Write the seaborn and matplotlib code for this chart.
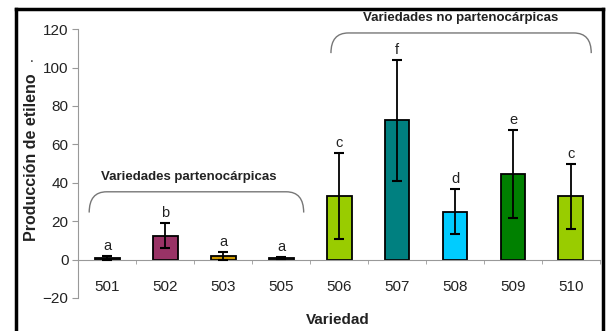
import numpy as np
import pandas as pd
import matplotlib.pyplot as plt
import matplotlib.patches as mpatches
from matplotlib.path import Path
import seaborn as sns

# --- data ---
variedades = ["501", "502", "503", "505", "506", "507", "508", "509", "510"]
produccion = [1.0, 12.5, 2.0, 1.0, 33.0, 72.5, 25.0, 44.5, 33.0]
error = [1.0, 6.5, 2.0, 0.6, 22.5, 31.5, 11.8, 23.0, 17.0]
letras = ["a", "b", "a", "a", "c", "f", "d", "e", "c"]
colores = ["#333333", "#993366", "#CC9900", "#555555", "#99CC00",
           "#008080", "#00CCFF", "#008000", "#99CC00"]

grupo_p = "Variedades partenocárpicas"
grupo_np = "Variedades no partenocárpicas"

df = pd.DataFrame({"Variedad": variedades, "Produccion": produccion})

sns.set_style("white")
plt.rcParams["font.family"] = ["Liberation Sans", "DejaVu Sans"]

fig = plt.figure(figsize=(6.06, 3.31), dpi=100)

# black frame around the picture: an empty axes whose spines are the frame
marco = fig.add_axes([16 / 606, -0.1, 587 / 606, 1.1 - 9 / 331])
marco.set_xticks([])
marco.set_yticks([])
marco.patch.set_alpha(0)
for s in marco.spines.values():
    s.set_color("black")
    s.set_linewidth(2.5)
    s.set_visible(True)

ax = fig.add_axes([0.129, 0.0997, 0.861, 0.8123])
ax.patch.set_alpha(0)

sns.barplot(data=df, x="Variedad", y="Produccion", hue="Variedad",
            palette=colores, saturation=1, width=0.43, edgecolor="black",
            linewidth=1.3, legend=False, ax=ax)

xs = np.arange(len(variedades))
ax.errorbar(xs, produccion, yerr=error, fmt="none", ecolor="black",
            elinewidth=1.3, capsize=3.5, capthick=1.5, zorder=5)

for x, y, e, l in zip(xs, produccion, error, letras):
    ax.text(x, y + e + 1.5, l, ha="center", va="bottom", fontsize=10.5, color="#222222")

ax.set_ylim(-20, 120)
ax.set_xlim(-0.5, len(variedades) - 0.5)
ax.set_yticks(range(-20, 121, 20))

# axes styling like the spreadsheet original
for s in ["top", "right"]:
    ax.spines[s].set_visible(False)
ax.spines["bottom"].set_position(("data", 0))
ax.spines["bottom"].set_color("#999999")
ax.spines["left"].set_color("#999999")
ax.tick_params(axis="y", left=True, length=4, color="#999999", labelsize=11,
               labelcolor="#222222", pad=3)
ax.tick_params(axis="x", bottom=False, labelsize=11, labelcolor="#222222", pad=11)
ax.set_xticks(np.arange(-0.5, len(variedades), 1), minor=True)
ax.tick_params(axis="x", which="minor", bottom=True, length=3, color="#999999")

ax.set_xlabel("")
ax.set_ylabel("")
fig.text(338 / 606, 1 - 320 / 331, "Variedad", fontsize=11, fontweight="bold",
         ha="center", va="center", color="#222222")
fig.text(32 / 606, 1 - 157 / 331, "Producción de etileno", fontsize=11.5,
         fontweight="bold", rotation=90, ha="center", va="center", color="#222222")
fig.text(32 / 606, 1 - 58 / 331, ".", fontsize=10, ha="center", va="center")


def llave(x0, x1, y_top, y_end, rx=0.3):
    verts = [(x0, y_end), (x0, y_top), (x0 + rx, y_top),
             (x1 - rx, y_top), (x1, y_top), (x1, y_end)]
    codes = [Path.MOVETO, Path.CURVE3, Path.CURVE3,
             Path.LINETO, Path.CURVE3, Path.CURVE3]
    ax.add_patch(mpatches.PathPatch(Path(verts, codes), fill=False,
                                    edgecolor="#777777", lw=1.0, clip_on=False))


llave(-0.31, 3.39, 35.3, 24.5)
llave(3.86, 8.35, 118, 107.5)
ax.text(1.4, 43, grupo_p, ha="center", va="center", fontsize=9.5,
        fontweight="bold", color="#222222")
ax.text(6.1, 125.7, grupo_np, ha="center", va="center", fontsize=9.5,
        fontweight="bold", color="#222222", clip_on=False)

fig.savefig("out.png", dpi=100)
